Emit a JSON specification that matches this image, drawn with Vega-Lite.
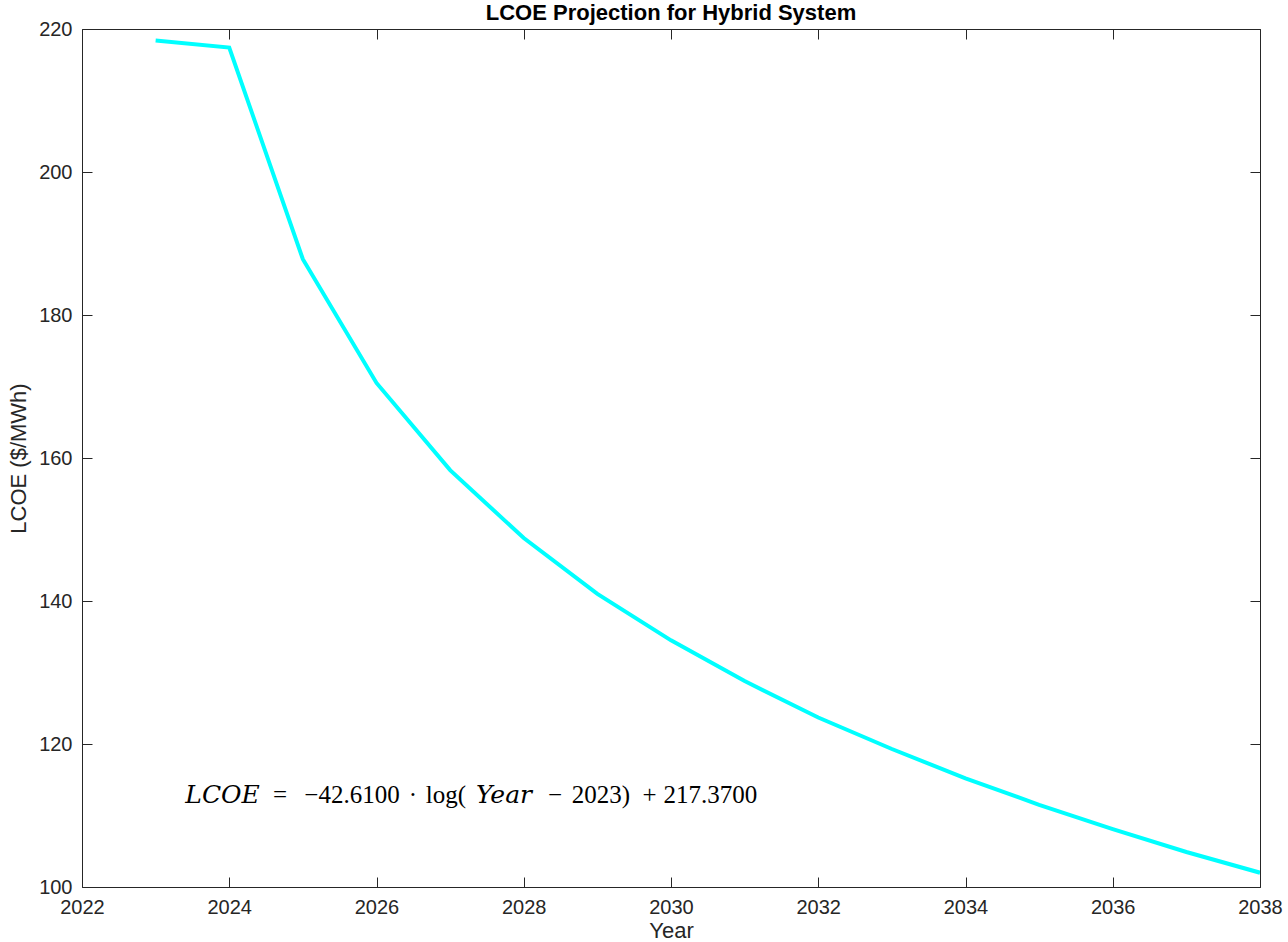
{
  "$schema": "https://vega.github.io/schema/vega-lite/v6.json",
  "width": 1178,
  "height": 858,
  "autosize": "none",
  "padding": {"left": 82, "top": 29, "right": 28, "bottom": 55},
  "background": "white",
  "config": {
    "view": {"stroke": "#262626", "strokeWidth": 1},
    "axis": {
      "grid": false,
      "domain": false,
      "tickSize": -10,
      "tickColor": "#262626",
      "tickWidth": 1,
      "labelFlush": false,
      "labelFont": "Liberation Sans",
      "labelFontSize": 20,
      "labelColor": "#262626",
      "titleFont": "Liberation Sans",
      "titleFontSize": 22,
      "titleFontWeight": "normal",
      "titleColor": "#262626"
    }
  },
  "title": {
    "text": "LCOE Projection for Hybrid System",
    "font": "Liberation Sans",
    "fontSize": 22,
    "fontWeight": "bold",
    "color": "black",
    "offset": -6
  },
  "resolve": {"axis": {"x": "independent", "y": "independent"}},
  "layer": [
    {
      "data": {
        "values": [
          {"Year": 2023, "LCOE": 218.4},
          {"Year": 2024, "LCOE": 217.4},
          {"Year": 2025, "LCOE": 187.8},
          {"Year": 2026, "LCOE": 170.5},
          {"Year": 2027, "LCOE": 158.3},
          {"Year": 2028, "LCOE": 148.8},
          {"Year": 2029, "LCOE": 141.0},
          {"Year": 2030, "LCOE": 134.5},
          {"Year": 2031, "LCOE": 128.8},
          {"Year": 2032, "LCOE": 123.7},
          {"Year": 2033, "LCOE": 119.3},
          {"Year": 2034, "LCOE": 115.2},
          {"Year": 2035, "LCOE": 111.5},
          {"Year": 2036, "LCOE": 108.1},
          {"Year": 2037, "LCOE": 104.9},
          {"Year": 2038, "LCOE": 102.0}
        ]
      },
      "mark": {"type": "line", "color": "#00FFFF", "strokeWidth": 4, "clip": true},
      "encoding": {
        "x": {
          "field": "Year",
          "type": "quantitative",
          "scale": {"domain": [2022, 2038], "nice": false, "zero": false},
          "axis": {"orient": "bottom", "values": [2022, 2024, 2026, 2028, 2030, 2032, 2034, 2036, 2038], "format": "d", "labelPadding": 20, "title": "Year", "titlePadding": 3}
        },
        "y": {
          "field": "LCOE",
          "type": "quantitative",
          "scale": {"domain": [100, 220], "nice": false, "zero": false},
          "axis": {"orient": "left", "values": [100, 120, 140, 160, 180, 200, 220], "labelPadding": 20, "title": "LCOE ($/MWh)", "titlePadding": 8}
        }
      }
    },
    {
      "data": {
        "values": [
          {"x": 2023.909, "y": 111.75, "t": "LCOE"},
          {"x": 2027.732, "y": 111.75, "t": "Year"}
        ]
      },
      "mark": {"type": "text", "font": "DejaVu Serif", "fontSize": 25, "fontStyle": "italic", "align": "center", "baseline": "alphabetic", "color": "black"},
      "encoding": {
        "x": {"field": "x", "type": "quantitative", "axis": {"orient": "top", "values": [2022, 2024, 2026, 2028, 2030, 2032, 2034, 2036, 2038], "labels": false, "title": null}},
        "y": {"field": "y", "type": "quantitative", "axis": {"orient": "right", "values": [100, 120, 140, 160, 180, 200, 220], "labels": false, "title": null}},
        "text": {"field": "t"}
      }
    },
    {
      "data": {
        "values": [
          {"x": 2024.689, "y": 111.75, "t": "="},
          {"x": 2025.667, "y": 111.75, "t": "−42.6100"},
          {"x": 2026.496, "y": 111.75, "t": "·"},
          {"x": 2026.944, "y": 111.75, "t": "log("},
          {"x": 2028.424, "y": 111.75, "t": "−"},
          {"x": 2029.049, "y": 111.75, "t": "2023)"},
          {"x": 2029.708, "y": 111.75, "t": "+"},
          {"x": 2030.536, "y": 111.75, "t": "217.3700"}
        ]
      },
      "mark": {"type": "text", "font": "Liberation Serif", "fontSize": 25, "align": "center", "baseline": "alphabetic", "color": "black"},
      "encoding": {
        "x": {"field": "x", "type": "quantitative", "axis": null},
        "y": {"field": "y", "type": "quantitative", "axis": null},
        "text": {"field": "t"}
      }
    }
  ]
}
